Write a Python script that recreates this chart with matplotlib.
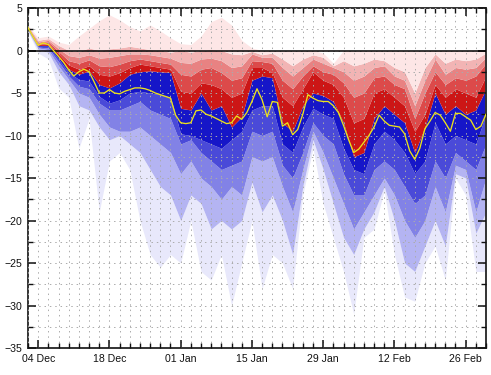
import numpy as np
import matplotlib.pyplot as plt
from matplotlib.ticker import MultipleLocator, FixedLocator

plt.rcParams['font.family'] = ['Liberation Sans', 'DejaVu Sans']

# x axis: days counted from 02 Dec
band_days = list(range(0, 91, 2))

# ensemble percentiles (min, 10, 20, ..., 90, max)
p_min = [2.2, -0.3, -1.0, -4.4, -5.5, -11.5, -8.0, -19.0, -13.0, -12.0, -14.0, -20.0, -24.0, -25.5,
         -24.0, -25.0, -20.0, -26.0, -27.0, -24.0, -30.0, -25.0, -20.0,
         -28.0, -24.0, -25.0, -28.0, -17.0, -11.5, -18.0, -22.0, -26.0, -31.0, -22.0, -21.0,
         -16.5, -24.0, -29.0, -29.5, -25.0, -23.0, -27.0, -15.0, -17.0, -26.0, -26.0]
p10 = [2.3, 0.1, -0.2, -2.5, -4.0, -6.5, -7.0, -9.0, -10.5, -10.0, -11.0, -12.0, -14.0, -16.0,
       -17.0, -20.0, -17.0, -18.0, -21.0, -20.0, -21.0, -20.0, -15.5,
       -19.0, -17.0, -20.0, -24.0, -16.0, -10.5, -14.0, -18.0, -22.0, -24.0, -21.0, -19.0,
       -16.0, -20.0, -25.0, -26.0, -23.0, -20.0, -23.0, -14.5, -15.0, -21.5, -19.0]
p20 = [2.4, 0.3, 0.1, -1.8, -3.4, -5.0, -5.5, -7.5, -9.0, -9.5, -9.5, -9.0, -10.0, -11.0,
       -12.0, -14.5, -13.0, -15.0, -16.0, -17.5, -16.0, -17.0, -12.5,
       -13.0, -12.5, -16.0, -19.0, -14.0, -9.5, -12.0, -15.0, -18.0, -21.0, -19.0, -17.0,
       -15.0, -17.0, -20.0, -22.0, -20.0, -16.0, -19.0, -13.5, -14.0, -19.0, -15.0]
p30 = [2.5, 0.4, 0.3, -1.3, -3.0, -4.2, -4.5, -6.2, -7.0, -7.0, -6.5, -6.0, -7.0, -7.5,
       -8.0, -11.0, -10.5, -12.0, -13.0, -14.0, -13.5, -13.0, -9.5,
       -10.0, -9.5, -13.5, -15.0, -12.0, -8.5, -10.0, -11.0, -14.5, -17.0, -17.0, -14.0,
       -13.0, -14.0, -16.0, -18.0, -17.0, -13.0, -15.0, -12.0, -13.0, -14.0, -11.0]
p40 = [2.6, 0.5, 0.5, -1.0, -2.6, -3.4, -3.6, -5.4, -6.2, -5.8, -5.0, -4.8, -5.0, -5.2,
       -5.5, -9.8, -10.0, -10.5, -11.0, -11.5, -10.5, -9.5, -7.0,
       -6.5, -6.5, -11.0, -12.0, -9.0, -6.8, -7.5, -8.0, -11.5, -14.0, -14.5, -11.0,
       -9.5, -10.5, -12.0, -14.5, -13.0, -8.5, -11.0, -10.0, -10.5, -11.0, -7.5]
p50 = [2.7, 0.6, 0.6, -0.7, -2.2, -2.8, -2.4, -4.0, -4.4, -3.8, -2.8, -2.5, -2.4, -2.5,
       -2.6, -6.8, -7.0, -5.0, -7.0, -6.5, -9.0, -7.8, -3.5,
       -3.0, -3.2, -8.5, -9.5, -6.5, -5.0, -5.3, -6.0, -8.5, -12.5, -12.0, -8.0,
       -6.5, -7.5, -8.5, -12.0, -9.0, -5.0, -7.5, -6.5, -7.5, -7.0, -4.5]
p60 = [2.7, 0.7, 0.8, -0.4, -1.7, -2.2, -1.8, -2.8, -3.0, -2.6, -2.0, -1.6, -1.8, -2.0,
       -2.2, -4.8, -5.0, -3.8, -4.0, -4.5, -5.5, -5.0, -2.0,
       -2.0, -2.6, -5.5, -6.5, -4.5, -2.5, -3.5, -4.0, -5.5, -8.5, -8.0, -5.0,
       -4.5, -5.5, -6.5, -9.5, -7.5, -4.0, -5.5, -4.5, -5.0, -5.5, -3.0]
p70 = [2.8, 0.8, 1.0, -0.1, -1.2, -1.5, -1.1, -1.8, -1.9, -1.6, -1.2, -1.0, -1.2, -1.4,
       -1.6, -2.8, -3.0, -2.2, -2.0, -2.6, -3.5, -3.2, -1.2,
       -1.3, -1.5, -3.5, -4.5, -3.0, -1.8, -2.5, -2.8, -3.8, -5.5, -5.0, -3.2,
       -3.0, -4.0, -4.5, -8.0, -5.0, -2.5, -4.0, -3.2, -3.5, -3.0, -1.5]
p80 = [2.8, 1.0, 1.2, 0.2, -0.6, -0.8, -0.5, -0.9, -0.8, -0.6, -0.4, -0.4, -0.5, -0.7,
       -0.9, -1.4, -1.5, -1.0, -0.9, -1.2, -2.0, -1.8, -0.4,
       -0.8, -0.8, -2.0, -3.0, -2.0, -1.0, -1.5, -2.0, -2.5, -3.5, -3.0, -2.0,
       -1.8, -3.0, -3.5, -6.5, -3.5, -1.0, -2.8, -2.0, -2.2, -2.0, -0.8]
p90 = [2.9, 1.2, 1.4, 0.6, 0.0, -0.1, 0.3, 0.0, 0.2, 0.3, 0.5, 0.3, 0.1, 0.0,
       -0.2, 0.0, -0.2, 0.0, 0.1, 0.0, -0.4, -0.5, -0.1,
       -0.5, -0.3, -1.0, -1.8, -1.0, -0.5, -0.8, -1.8, -1.2, -1.8, -1.5, -1.0,
       -1.2, -2.0, -2.5, -5.0, -2.0, -0.4, -1.5, -1.0, -1.2, -1.0, -0.3]
p_max = [3.0, 1.5, 1.7, 1.0, 0.7, 1.7, 2.6, 3.5, 4.2, 3.6, 2.8, 2.3, 3.0, 2.3,
         1.5, 0.8, 0.7, 1.7, 3.4, 3.9, 3.0, 1.2, 0.3,
         0.0, 0.0, 0.0, 0.0, 0.0, 0.0, -0.3, -1.5, 0.0, 0.0, 0.0, 0.0,
         0.0, 0.0, 0.0, 0.0, 0.0, 0.0, 0.0, 0.0, 0.0, 0.0, 0.0]

# ensemble mean, daily
mean_days = list(range(0, 91))
ens_mean = [2.7, 1.6, 0.6, 0.9, 0.7, 0.0, -0.7, -1.4, -2.3, -3.0,
            -2.5, -2.2, -2.5, -3.7, -5.0, -5.0, -4.6, -5.0, -5.1, -4.8,
            -4.6, -4.4, -4.4, -4.5, -4.7, -5.0, -5.2, -5.4, -5.6, -7.6,
            -8.5, -8.6, -8.5, -7.1, -7.0, -7.5, -7.7, -8.0, -8.3, -8.6,
            -8.5, -7.7, -8.1, -7.3, -6.0, -4.5, -5.8, -7.8, -6.0, -6.1,
            -8.9, -8.5, -9.9, -9.3, -7.5, -5.2, -5.6, -5.9, -6.0, -6.0,
            -6.5, -7.3, -8.8, -10.5, -12.0, -11.6, -10.8, -10.0, -9.0, -7.6,
            -8.3, -8.8, -8.9, -9.0, -9.8, -11.8, -12.8, -11.5, -9.2, -8.3,
            -7.3, -7.6, -8.5, -9.5, -7.4, -7.4, -7.8, -8.2, -9.3, -8.9,
            -7.5]

date_ticks = [2, 16, 30, 44, 58, 72, 86]
date_labels = ['04 Dec', '18 Dec', '01 Jan', '15 Jan', '29 Jan', '12 Feb', '26 Feb']

levels = [p_min, p10, p20, p30, p40, p50, p60, p70, p80, p90, p_max]
band_colors = ['#e8e8fb', '#b4b4f2', '#8282e6', '#4a4ad8', '#1616c8',
               '#cc1616', '#dc4a4a', '#e88282', '#f2b4b4', '#fde6e6']

fig = plt.figure(figsize=(4.91, 3.75), dpi=100)
ax = fig.add_axes([28 / 491, 1 - 348 / 375, 458 / 491, 340 / 375])

x = np.array(band_days)
for lo, hi, c in zip(levels[:-1], levels[1:], band_colors):
    ax.fill_between(x, lo, hi, color=c, linewidth=0, zorder=1)

ax.axhline(0, color='black', linewidth=1.1, zorder=3)
ax.plot(mean_days, ens_mean, color='#ece21a', linewidth=0.95, zorder=4)

ax.set_xlim(0, 90)
ax.set_ylim(-35, 5)

ax.xaxis.set_major_locator(FixedLocator(date_ticks))
ax.xaxis.set_minor_locator(MultipleLocator(2))
ax.set_xticklabels(date_labels)
ax.yaxis.set_major_locator(MultipleLocator(5))
ax.yaxis.set_minor_locator(MultipleLocator(2.5))

ax.tick_params(which='both', direction='in', top=True, right=True,
               labelsize=7.6, colors='#111111')
ax.tick_params(which='major', length=6, width=1.1)
ax.tick_params(which='minor', length=3.5, width=1.0)
ax.tick_params(axis='x', pad=4)
ax.tick_params(axis='y', pad=4)

ax.grid(which='both', color='#ababab', linestyle=(0, (1.5, 4)), linewidth=0.7, zorder=2)
ax.set_axisbelow(False)

for s in ax.spines.values():
    s.set_linewidth(1.4)
    s.set_color('#333333')

fig.savefig('out.png', dpi=100)
